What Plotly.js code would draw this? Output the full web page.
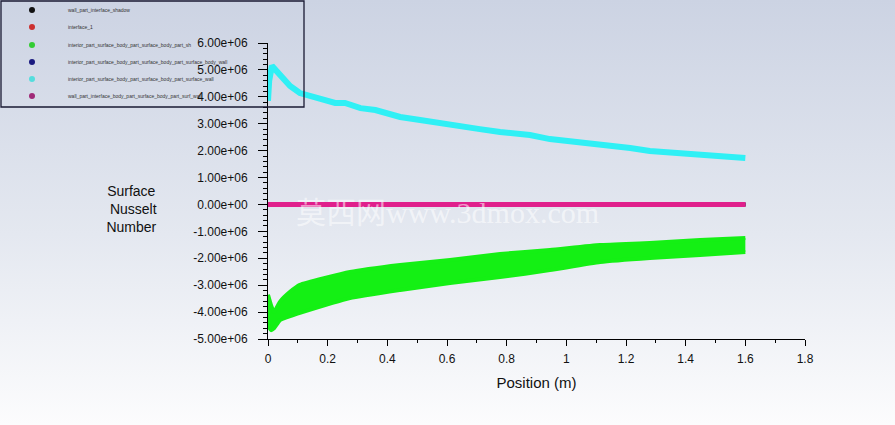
<!DOCTYPE html>
<html>
<head>
<meta charset="utf-8">
<script src="https://cdn.plot.ly/plotly-3.0.1.min.js"></script>
<style>
html,body{margin:0;padding:0;width:895px;height:425px;overflow:hidden;}
body{background:linear-gradient(to bottom,#ccd3e3 0%,#e4e8f0 55%,#fcfcfd 100%);}
#chart{width:895px;height:425px;}
</style>
</head>
<body>
<div id="chart"></div>
<script>
// ---- data ----
const seriesNames = [
  "wall_part_interface_shadow",
  "interface_1",
  "interior_part_surface_body_part_surface_body_part_sh",
  "interior_part_surface_body_part_surface_body_part_surface_body_wall",
  "interior_part_surface_body_part_surface_body_part_surface_wall",
  "wall_part_interface_body_part_surface_body_part_surf_wall"
];
const seriesColors = ["#000000", "#ff0000", "#14f014", "#1a1aa0", "#2ff0f5", "#e0208c"];

const flatX = [0, 0.2, 0.4, 0.6, 0.8, 1.0, 1.2, 1.4, 1.6];
const blackY = [0, 0, 0, 0, 0, 0, 0, 0, 0];
const redY = [0, 0, 0, 0, 0, 0, 0, 0, 0];
const blueY = [0, 0, 0, 0, 0, 0, 0, 0, 0];
const magentaY = [0, 0, 0, 0, 0, 0, 0, 0, 0];

const cyanX = [0, 0.004, 0.013, 0.04, 0.074, 0.107, 0.174, 0.225, 0.258, 0.31, 0.36, 0.443, 0.51, 0.61, 0.71, 0.778, 0.878, 0.945, 1.046, 1.113, 1.214, 1.28, 1.38, 1.448, 1.6];
const cyanY = [3.85e6, 4.6e6, 5.15e6, 4.81e6, 4.40e6, 4.14e6, 3.96e6, 3.77e6, 3.77e6, 3.58e6, 3.51e6, 3.25e6, 3.14e6, 2.95e6, 2.80e6, 2.69e6, 2.58e6, 2.43e6, 2.32e6, 2.21e6, 2.10e6, 1.99e6, 1.91e6, 1.84e6, 1.73e6];

const greenX = [0, 0.01, 0.02, 0.04, 0.074, 0.107, 0.275, 0.443, 0.61, 0.778, 0.945, 1.113, 1.28, 1.448, 1.6];
const greenUpper = [-3.36e6, -3.74e6, -4.0e6, -3.62e6, -3.25e6, -2.99e6, -2.51e6, -2.25e6, -2.06e6, -1.84e6, -1.69e6, -1.51e6, -1.43e6, -1.32e6, -1.25e6];
const greenLower = [-4.48e6, -4.67e6, -4.6e6, -4.3e6, -4.15e6, -4.03e6, -3.48e6, -3.18e6, -2.92e6, -2.70e6, -2.44e6, -2.14e6, -1.99e6, -1.88e6, -1.77e6];

const yTickVals = [6e6, 5e6, 4e6, 3e6, 2e6, 1e6, 0, -1e6, -2e6, -3e6, -4e6, -5e6];
const yTickText = ["6.00e+06", "5.00e+06", "4.00e+06", "3.00e+06", "2.00e+06", "1.00e+06", "0.00e+00", "-1.00e+06", "-2.00e+06", "-3.00e+06", "-4.00e+06", "-5.00e+06"];
const xTickVals = [0, 0.2, 0.4, 0.6, 0.8, 1, 1.2, 1.4, 1.6, 1.8];
const xTickText = ["0", "0.2", "0.4", "0.6", "0.8", "1", "1.2", "1.4", "1.6", "1.8"];

// ---- layout helpers (pixel -> paper) ----
const L = 268, R = 805, T = 43, B = 339;
const px = v => (v - L) / (R - L);
const py = v => (B - v) / (B - T);

const traces = [
  {x: greenX, y: greenLower, mode: "lines", line: {color: seriesColors[2], width: 4, shape: "spline", smoothing: 0.4}, showlegend: false, hoverinfo: "skip"},
  {x: greenX, y: greenUpper, mode: "lines", line: {color: seriesColors[2], width: 4, shape: "spline", smoothing: 0.4}, fill: "tonexty", fillcolor: seriesColors[2], name: seriesNames[2], showlegend: false},
  {x: flatX, y: blackY, mode: "lines", line: {color: seriesColors[0], width: 4}, name: seriesNames[0], showlegend: false},
  {x: flatX, y: redY, mode: "lines", line: {color: seriesColors[1], width: 4}, name: seriesNames[1], showlegend: false},
  {x: flatX, y: blueY, mode: "lines", line: {color: seriesColors[3], width: 4}, name: seriesNames[3], showlegend: false},
  {x: cyanX, y: cyanY, mode: "lines", line: {color: seriesColors[4], width: 6}, name: seriesNames[4], showlegend: false},
  {x: flatX, y: magentaY, mode: "lines", line: {color: seriesColors[5], width: 5}, name: seriesNames[5], showlegend: false}
];

// custom Fluent-style legend
const shapes = [{type: "rect", xref: "paper", yref: "paper", x0: px(1), x1: px(304), y0: py(107), y1: py(1), line: {color: "#1a1a33", width: 1.3}, fillcolor: "rgba(0,0,0,0)", layer: "above"}];
const annotations = [];
const legendY = [10, 27, 45, 62, 79, 96];
const dotColors = ["#111111", "#cc3030", "#33cc33", "#1a1a80", "#55dddd", "#a02a78"];
for (let i = 0; i < seriesNames.length; i++) {
  shapes.push({type: "circle", xref: "paper", yref: "paper", x0: px(29), x1: px(35), y0: py(legendY[i] + 3), y1: py(legendY[i] - 3), fillcolor: dotColors[i], line: {width: 0}, layer: "above"});
  annotations.push({xref: "paper", yref: "paper", x: px(66), y: py(legendY[i]), xanchor: "left", yanchor: "middle", showarrow: false, text: seriesNames[i], font: {family: "Arial, Liberation Sans", size: 5, color: "#333333"}});
}
annotations.push({xref: "paper", yref: "paper", x: px(131), y: py(209), xanchor: "center", yanchor: "middle", showarrow: false, align: "center", text: "Surface<br> Nusselt<br>Number", font: {family: "Arial, Liberation Sans", size: 14, color: "#111111"}});
annotations.push({xref: "paper", yref: "paper", x: px(447), y: py(212), xanchor: "center", yanchor: "middle", showarrow: false, text: "莫西网www.3dmox.com", font: {family: "Liberation Serif, Noto Sans CJK SC", size: 30, color: "rgba(255,255,255,0.55)"}});

const layout = {
  width: 895, height: 425,
  margin: {l: L, r: 895 - R, t: T, b: 425 - B, pad: 0},
  paper_bgcolor: "rgba(0,0,0,0)",
  plot_bgcolor: "rgba(0,0,0,0)",
  showlegend: false,
  xaxis: {
    range: [0, 1.8], showgrid: false, zeroline: false, showline: true, linecolor: "#000", linewidth: 1,
    ticks: "outside", ticklen: 6, tickcolor: "#000", tickvals: xTickVals, ticktext: xTickText,
    ticklabelstandoff: 3,
    minor: {ticks: "outside", ticklen: 3, dtick: 0.1, tickcolor: "#000", showgrid: false},
    tickfont: {family: "Arial, Liberation Sans", size: 12, color: "#111"},
    title: {text: "Position (m)", font: {family: "Arial, Liberation Sans", size: 15, color: "#111"}, standoff: 12},
    fixedrange: true
  },
  yaxis: {
    range: [-5e6, 6e6], showgrid: false, zeroline: false, showline: true, linecolor: "#000", linewidth: 1,
    ticks: "outside", ticklen: 9, tickcolor: "#000", tickvals: yTickVals, ticktext: yTickText,
    ticklabelstandoff: 8,
    minor: {ticks: "outside", ticklen: 4, dtick: 2e5, tickcolor: "#000", showgrid: false},
    tickfont: {family: "Arial, Liberation Sans", size: 12, color: "#111"},
    fixedrange: true
  },
  shapes: shapes,
  annotations: annotations
};

Plotly.newPlot("chart", traces, layout, {displayModeBar: false, staticPlot: true});
</script>
</body>
</html>
